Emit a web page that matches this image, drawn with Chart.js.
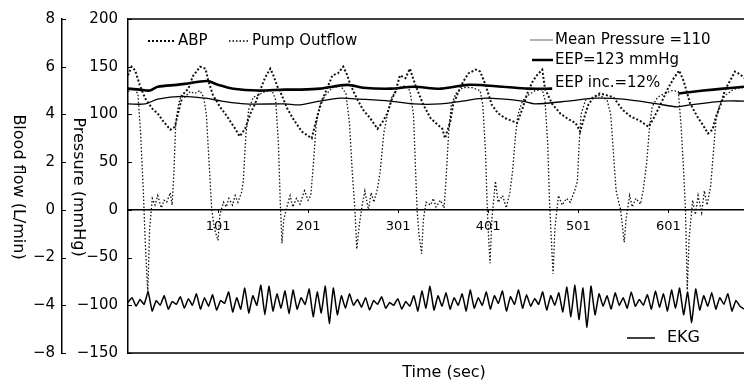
<!DOCTYPE html>
<html>
<head>
<meta charset="utf-8">
<script src="https://cdn.jsdelivr.net/npm/chart.js@4.4.1/dist/chart.umd.min.js"></script>
<style>
html,body{margin:0;padding:0;background:#fff;}
#wrap{width:744px;height:383px;position:relative;}
</style>
</head>
<body>
<div id="wrap"><canvas id="c"></canvas></div>
<script>
// ---- Data ----
const xTickValues = [101, 201, 301, 401, 501, 601];
const pressureTickValues = [200, 150, 100, 50, 0, -50, -100, -150];
const flowTickValues = [8, 6, 4, 2, 0, -2, -4, -6];
const flowTickLabels = ['8', '6', '4', '2', '0', '\u22122', '\u22124', '\u22128'];

// ABP (mmHg)
const abpX = [1,5,9,14,20,28,34,40,48,53,57,62,68,73,81,87,90,95,103,111,120,125,131,137,142,148,153,159,162,167,170,178,184,194,205,209,212,217,222,228,234,240,244,248,255,262,270,278,283,289,294,298,303,309,314,320,329,337,344,350,353,359,362,368,373,379,387,392,398,405,412,420,428,433,439,444,450,455,461,464,472,481,490,498,503,507,512,518,525,533,540,550,559,570,579,584,590,595,601,607,613,618,625,633,640,645,650,654,659,664,670,675,681,685];
const abpP = [141,150,146,131,117,106,101,93,84,87,103,121,127,140,150,148,136,121,108,98,85,77,85,101,111,126,138,148,142,129,124,106,96,82,75,90,101,116,127,141,143,150,142,131,117,105,96,85,91,101,116,124,141,138,148,131,110,96,90,85,75,93,110,124,134,143,147,145,131,110,101,96,93,91,106,121,134,141,147,127,111,101,95,91,82,95,110,118,122,120,118,105,98,93,87,95,106,116,128,138,146,135,112,98,88,80,84,98,110,126,136,145,142,138];

// Pump Outflow (L/min)
const pumpX = [1,7,12,15,18,20,22,23,25,28,31,34,38,41,44,48,50,52,54,57,60,64,70,75,81,85,88,91,94,97,101,103,107,110,113,117,120,123,127,129,132,135,140,145,153,161,165,168,170,172,174,178,181,184,188,192,197,201,204,207,210,214,220,228,237,243,247,250,253,255,258,261,264,268,271,274,278,281,285,290,294,301,309,314,318,320,322,324,327,329,332,337,340,343,348,352,354,357,360,365,373,383,392,395,398,400,402,403,405,409,412,417,421,425,428,431,434,439,445,453,461,464,467,469,471,473,475,479,483,488,492,497,500,502,504,509,517,525,533,537,540,543,548,552,554,558,561,565,570,573,577,580,583,589,597,605,612,615,618,620,622,624,628,631,634,638,641,644,648,651,654,658,664,673,681,685];
const pumpFlow = [4.96,5.08,4.88,3.2,0.8,-1.2,-2.8,-3.44,-0.8,0.48,0.2,0.6,0.08,0.4,0.32,0.72,0.2,1.6,3.6,4.4,4.8,4.72,4.96,4.88,5.0,4.72,4.0,2.0,0,-0.8,-1.28,-0.2,0.32,0.12,0.48,0.2,0.6,0.32,0.72,1.2,3.2,4.2,4.72,4.8,4.96,5.0,4.6,2.8,0.4,-1.4,-0.4,0.2,0.6,0.12,0.48,0.24,0.8,0.4,0.6,2.0,3.6,4.4,4.8,5.12,5.2,4.88,3.6,1.6,0,-1.64,-0.6,0.2,0.8,0,0.72,0.32,0.88,1.6,3.2,4.2,4.72,5.12,5.2,5.0,4.0,2.0,0,-1.0,-1.84,-0.4,0.32,0.2,0.48,0.12,0.4,0.08,1.2,3.2,4.4,4.88,5.12,5.12,5.0,4.4,2.4,0,-1.6,-2.24,-0.4,1.2,0.32,0.6,0.08,0.72,1.6,3.0,4.0,4.56,4.8,5.0,5.04,4.6,2.8,0.4,-1.2,-2.68,-0.8,0.6,0.2,0.48,0.32,0.8,1.2,2.8,4.0,4.6,4.72,4.8,4.6,4.0,2.4,0.8,0,-1.36,-0.4,0.6,0.12,0.48,0.24,0.8,2.0,3.4,4.32,4.72,4.88,5.0,4.96,3.6,1.6,0,-3.36,-1.2,0.4,-0.2,0.6,-0.12,0.8,0.2,1.0,2.4,3.8,4.4,4.8,5.04,5.12,5.12];

// Mean Pressure (mmHg)
const meanX = [1,20,34,61,87,105,131,175,192,214,237,259,292,318,348,372,398,439,453,490,520,551,589,611,625,662,685];
const meanP = [111,111,116,119,117,114,111,111,110,114,117,116,114,111,111,114,117,114,111,114,117,116,111,108,110,114,114];

// EEP (mmHg) - null where the trace is not drawn
const eepX = [1,14,25,34,55,64,89,101,118,145,175,192,214,244,262,292,318,348,379,417,445,472,540,612,640,662,685];
const eepP = [127,126,125,129,131,132,135,131,127,125,126,126,127,131,128,127,129,127,131,129,127,127,null,122,125,127,129];

// EKG (arbitrary, drawn on the pressure scale), uniformly sampled
const ekgVals = [-97,-92,-101,-94,-99,-86,-106,-95,-100,-90,-104,-96,-99,-91,-103,-93,-100,-88,
 -104,-92,-101,-89,-105,-95,-98,-86,-107,-92,
 -104,-82,-108,-90,-100,-79,-110,-80,-106,-88,-103,-85,-109,-84,-104,-92,-99,-83,-112,-86,-108,-80,-119,-82,-110,
 -90,-103,-88,-100,-94,-102,-92,-105,-95,-99,-91,-103,-97,-100,-93,-104,-96,-101,-90,-106,
 -85,-103,-80,-105,-90,-101,-87,-104,-92,-100,-88,-106,-84,-103,-92,
 -100,-86,-104,-90,-98,-85,-106,-91,-99,-84,-103,-89,-101,-93,-99,-86,-105,-90,-100,-87,
 -107,-81,-112,-79,-115,-82,-123,-80,-110,-88,
 -101,-90,-104,-87,-100,-92,-103,-86,-101,-94,-100,-89,-104,-85,-102,
 -88,-106,-84,-103,-82,-110,-86,-118,-83,-105,-90,-101,-87,-104,-92,-99,-88,-106,-95,-101,-104];
const ekgStart = 1, ekgEnd = 685;

// Zero line
const zeroX = [1, 685];
const zeroP = [0, 0];

// ---- Build ----
const pts = (xs, ys) => xs.map((x, i) => ({x, y: ys[i]}));
const ekgStep = (ekgEnd - ekgStart) / (ekgVals.length - 1);
const ekgPts = ekgVals.map((v, i) => ({x: ekgStart + i * ekgStep, y: v}));

Chart.defaults.font.family = '"DejaVu Sans", sans-serif';
Chart.defaults.color = '#000';

const FONT = '"DejaVu Sans", sans-serif';

const decor = {
  id: 'decor',
  afterDraw(chart) {
    const ctx = chart.ctx, a = chart.chartArea;
    const ys = chart.scales.y, fs = chart.scales.yFlow;
    ctx.save();
    ctx.strokeStyle = '#000';
    ctx.lineWidth = 1.5;
    ctx.beginPath();
    ctx.moveTo(a.left, a.top); ctx.lineTo(a.right, a.top);
    ctx.moveTo(a.left, a.bottom); ctx.lineTo(a.right, a.bottom);
    ctx.stroke();
    // inward tick marks
    ctx.lineWidth = 1;
    ctx.beginPath();
    pressureTickValues.forEach(v => {
      const py = Math.round(ys.getPixelForValue(v)) + 0.5;
      ctx.moveTo(a.left, py); ctx.lineTo(a.left + 4, py);
    });
    flowTickValues.forEach(v => {
      const py = Math.round(fs.getPixelForValue(v)) + 0.5;
      ctx.moveTo(fs.right, py); ctx.lineTo(fs.right + 4, py);
    });
    ctx.stroke();

    // axis titles
    ctx.fillStyle = '#000';
    ctx.textAlign = 'center';
    ctx.textBaseline = 'middle';
    ctx.font = '16px ' + FONT;
    const cy = (a.top + a.bottom) / 2 + 1;
    ctx.save(); ctx.translate(fs.left + 18, cy); ctx.rotate(Math.PI / 2);
    ctx.fillText('Blood flow (L/min)', 0, 0); ctx.restore();
    ctx.save(); ctx.translate(ys.left + 16, cy); ctx.rotate(Math.PI / 2);
    ctx.fillText('Pressure (mmHg)', 0, 0); ctx.restore();
    ctx.fillText('Time (sec)', (a.left + a.right) / 2 + 8, a.bottom + 20);

    // legends
    ctx.textAlign = 'left';
    ctx.font = '15px ' + FONT;
    const L = a.left, T = a.top;
    // ABP
    ctx.lineWidth = 2; ctx.setLineDash([2, 2]);
    ctx.beginPath(); ctx.moveTo(L + 20, T + 22); ctx.lineTo(L + 47, T + 22); ctx.stroke();
    ctx.fillText('ABP', L + 50, T + 22);
    // Pump Outflow
    ctx.lineWidth = 1.3; ctx.setLineDash([1.5, 2]);
    ctx.beginPath(); ctx.moveTo(L + 101, T + 22); ctx.lineTo(L + 121, T + 22); ctx.stroke();
    ctx.fillText('Pump Outflow', L + 124, T + 22);
    ctx.setLineDash([]);
    // Mean pressure
    ctx.strokeStyle = '#666'; ctx.lineWidth = 1;
    ctx.beginPath(); ctx.moveTo(L + 402, T + 21); ctx.lineTo(L + 425, T + 21); ctx.stroke();
    ctx.fillText('Mean Pressure =110', L + 427, T + 21);
    // EEP
    ctx.strokeStyle = '#000'; ctx.lineWidth = 2.5;
    ctx.beginPath(); ctx.moveTo(L + 404, T + 41); ctx.lineTo(L + 425, T + 41); ctx.stroke();
    ctx.fillText('EEP=123 mmHg', L + 427, T + 41);
    ctx.fillText('EEP inc.=12%', L + 427, T + 64);
    // EKG
    ctx.lineWidth = 1.5;
    ctx.beginPath(); ctx.moveTo(L + 499, a.bottom - 15); ctx.lineTo(L + 527, a.bottom - 15); ctx.stroke();
    ctx.font = '16px ' + FONT;
    ctx.fillText('EKG', L + 539, a.bottom - 15);
    ctx.restore();
  }
};

new Chart(document.getElementById('c'), {
  type: 'line',
  data: {
    datasets: [
      {label: 'ABP', data: pts(abpX, abpP), yAxisID: 'y', borderColor: '#111', borderWidth: 2, borderDash: [2, 2], pointRadius: 0, tension: 0},
      {label: 'Pump Outflow', data: pts(pumpX, pumpFlow), yAxisID: 'yFlow', borderColor: '#111', borderWidth: 1.3, borderDash: [1.5, 2], pointRadius: 0, tension: 0},
      {label: 'Mean Pressure =110', data: pts(meanX, meanP), yAxisID: 'y', borderColor: '#000', borderWidth: 1.3, pointRadius: 0, tension: 0.3},
      {label: 'EEP=123 mmHg', data: pts(eepX, eepP), yAxisID: 'y', borderColor: '#000', borderWidth: 2.6, pointRadius: 0, tension: 0.3, spanGaps: false},
      {label: 'EKG', data: ekgPts, yAxisID: 'y', borderColor: '#000', borderWidth: 1.5, pointRadius: 0, tension: 0.12},
      {label: 'zero', data: pts(zeroX, zeroP), yAxisID: 'y', borderColor: '#000', borderWidth: 1.5, pointRadius: 0}
    ]
  },
  options: {
    responsive: true,
    maintainAspectRatio: false,
    animation: false,
    parsing: {xAxisKey: 'x', yAxisKey: 'y'},
    layout: {padding: {top: 16, bottom: 30, left: 0, right: 0}},
    plugins: {legend: {display: false}, tooltip: {enabled: false}},
    scales: {
      x: {
        type: 'linear',
        min: 1, max: 685,
        position: {y: 0},
        afterBuildTicks: s => { s.ticks = xTickValues.map(v => ({value: v})); },
        ticks: {font: {size: 13}, padding: 6, maxRotation: 0, autoSkip: false, callback: v => String(v)},
        grid: {display: true, drawOnChartArea: false, drawTicks: true, tickLength: 3, color: '#000'},
        border: {display: false}
      },
      y: {
        type: 'linear',
        position: 'left',
        weight: 0,
        min: -150, max: 200,
        afterBuildTicks: s => { s.ticks = pressureTickValues.slice().reverse().map(v => ({value: v})); },
        ticks: {font: {size: 15}, padding: 10, callback: v => String(v).replace('-', '\u2212')},
        grid: {drawOnChartArea: false, drawTicks: false},
        border: {display: true, color: '#000', width: 1.5},
        afterFit: s => { s.width = 66; }
      },
      yFlow: {
        type: 'linear',
        position: 'left',
        weight: 1,
        min: -6, max: 8,
        afterBuildTicks: s => { s.ticks = flowTickValues.slice().reverse().map(v => ({value: v})); },
        ticks: {font: {size: 15}, padding: 7, callback: v => flowTickLabels[flowTickValues.indexOf(v)]},
        grid: {drawOnChartArea: false, drawTicks: false},
        border: {display: true, color: '#000', width: 1.5},
        afterFit: s => { s.width = 62; }
      }
    }
  },
  plugins: [decor]
});
</script>
</body>
</html>
